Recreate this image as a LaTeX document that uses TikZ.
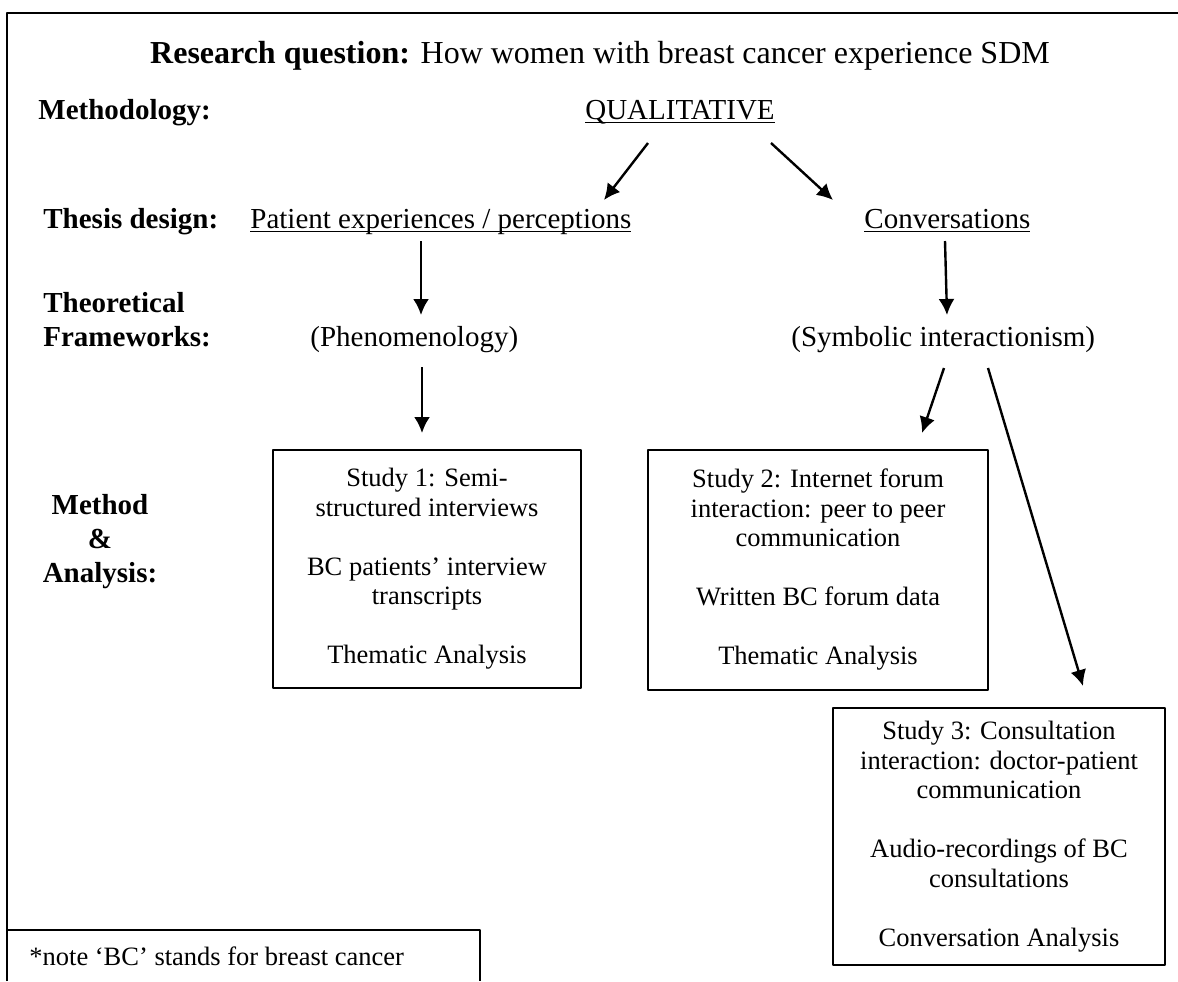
\documentclass[tikz,border=0pt]{standalone}
\usepackage{fontspec}
\setmainfont{Liberation Serif}
\usetikzlibrary{arrows.meta}
\newcommand{\wordul}[1]{\setbox0\hbox{#1}\rlap{\rule[-2.2pt]{\wd0}{0.8pt}}\box0}

\begin{document}
\begin{tikzpicture}[x=0.5pt,y=-0.5pt,line join=bevel,>={Latex[length=8pt,width=8pt]},
  lbl/.style={anchor=base west,inner sep=0pt,font=\bfseries\fontsize{14.5}{17}\selectfont},
  txt/.style={anchor=base west,inner sep=0pt,font=\fontsize{14.5}{17}\selectfont},
  studybox/.style={draw,line width=1pt,align=center,font=\fontsize{13.25}{14.75}\selectfont},
  arr/.style={->,line width=1.2pt}]
  \useasboundingbox (0,0) rectangle (1178,981);

  \coordinate (qualL) at (648,143);
  \coordinate (qualR) at (771,143);
  \coordinate (patTop) at (604,200);
  \coordinate (convTop) at (833,200);

  \coordinate (patBot) at (421,241);
  \coordinate (convBot) at (945,241);
  \coordinate (phenTop) at (421,315);
  \coordinate (symbTop) at (947,315);

  \coordinate (phenBot) at (422,367);
  \coordinate (symbL) at (944,368);
  \coordinate (symbR) at (988,368);
  \coordinate (s1Top) at (422,433);
  \coordinate (s2Top) at (922,433);
  \coordinate (s3Top) at (1083,686);

  \draw[line width=1pt] (7,981) -- (7,13) -- (1178,13);
  \draw[line width=1pt] (7,930) -- (480,930) -- (480,981);

  \node[txt,anchor=base] (title) at (600,63) {\fontsize{16}{16}\selectfont \textbf{Research question:} How women with breast cancer experience SDM};

  \node[lbl] (methodology) at (38,119) {Methodology:};
  \node[txt,anchor=base] (qual) at (680,119) {\wordul{QUALITATIVE}};

  \node[lbl] (design) at (43,228) {Thesis design:};
  \node[txt] (patient) at (250,228) {\wordul{Patient experiences / perceptions}};
  \node[txt] (conv) at (864,228) {\wordul{Conversations}};

  \node[lbl,align=left] (theory) at (43,346) {Theoretical\\Frameworks:};
  \node[txt] (phenom) at (310,346) {(Phenomenology)};
  \node[txt] (symb) at (791,346) {(Symbolic interactionism)};

  \node[lbl,align=center,anchor=base] (analysis) at (100,582) {Method\\\&\\Analysis:};

  \node[studybox,minimum width=154pt,minimum height=119pt] (study1) at (427,569)
    {Study 1: Semi-\\structured interviews\\[14.75pt]BC patients’ interview\\transcripts\\[14.75pt]Thematic Analysis};
  \node[studybox,minimum width=170pt,minimum height=120pt] (study2) at (818,570)
    {Study 2: Internet forum\\interaction: peer to peer\\communication\\[14.75pt]Written BC forum data\\[14.75pt]Thematic Analysis};
  \node[studybox,minimum width=166pt,minimum height=128.5pt] (study3) at (999,836.5)
    {Study 3: Consultation\\interaction: doctor-patient\\communication\\[14.75pt]Audio-recordings of BC\\consultations\\[14.75pt]Conversation Analysis};

  \node[txt,font=\fontsize{13.25}{14.75}\selectfont] (note) at (29,965) {*note ‘BC’ stands for breast cancer};

  \draw[arr] (qualL) -- (patTop);
  \draw[arr] (qualR) -- (convTop);
  \draw[arr] (patBot) -- (phenTop);
  \draw[arr] (convBot) -- (symbTop);
  \draw[arr] (phenBot) -- (s1Top);
  \draw[arr] (symbL) -- (s2Top);
  \draw[arr] (symbR) -- (s3Top);

\end{tikzpicture}
\end{document}
